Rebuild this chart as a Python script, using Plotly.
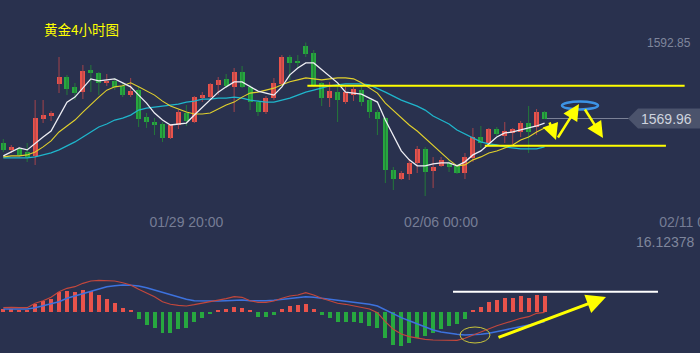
import plotly.graph_objects as go

# ---------------- data ----------------
tick_labels = ["01/29 20:00", "02/06 00:00", "02/11 00:00"]
tick_pos = [23, 55, 87]

opens = [1562.58, 1560.47, 1560.77, 1559.87, 1558.66, 1569.81, 1570.71, 1580.35, 1582.46, 1579.45,
         1577.94, 1584.57, 1583.66, 1580.65, 1581.25, 1579.75, 1577.04, 1578.54, 1570.41, 1568.90,
         1568.30, 1564.08, 1568.00, 1571.61, 1568.90, 1576.13, 1576.43, 1580.05, 1581.86, 1579.45,
         1583.96, 1579.45, 1574.93, 1571.91, 1576.13, 1580.35, 1588.48, 1587.28, 1591.79, 1589.69,
         1580.65, 1576.13, 1577.94, 1574.93, 1577.04, 1578.54, 1575.53, 1571.91, 1570.11, 1554.45,
         1551.74, 1553.24, 1556.55, 1560.77, 1554.14, 1555.65, 1556.55, 1555.65, 1553.54, 1558.06,
         1564.38, 1562.58, 1566.79, 1564.69, 1565.59, 1565.89, 1568.60, 1567.40, 1571.91]
highs = [1563.78, 1561.98, 1561.37, 1562.58, 1575.53, 1575.53, 1572.22, 1588.48, 1583.06, 1580.65,
         1586.07, 1586.07, 1583.96, 1583.36, 1582.16, 1580.65, 1582.16, 1579.45, 1571.61, 1570.11,
         1568.90, 1568.30, 1572.52, 1574.02, 1576.73, 1577.94, 1580.65, 1582.46, 1583.36, 1585.17,
         1585.77, 1580.05, 1575.53, 1576.73, 1582.16, 1589.08, 1589.08, 1589.08, 1592.85, 1590.59,
         1580.95, 1580.95, 1579.45, 1579.45, 1579.45, 1579.45, 1576.13, 1572.52, 1570.41, 1555.35,
         1554.14, 1557.76, 1561.67, 1561.37, 1558.36, 1558.36, 1557.76, 1556.25, 1559.57, 1567.10,
         1567.70, 1567.10, 1567.40, 1568.90, 1567.10, 1569.20, 1573.72, 1572.82, 1572.22]
lows = [1559.87, 1559.57, 1558.36, 1556.86, 1555.95, 1568.60, 1569.20, 1577.64, 1577.04, 1575.53,
        1575.83, 1577.94, 1577.04, 1579.75, 1578.54, 1576.43, 1576.43, 1567.40, 1567.10, 1564.99,
        1562.88, 1563.78, 1566.79, 1567.70, 1568.60, 1574.93, 1576.13, 1577.04, 1579.14, 1571.91,
        1579.14, 1572.52, 1570.71, 1571.31, 1575.53, 1580.05, 1581.55, 1585.17, 1588.48, 1579.45,
        1573.72, 1573.42, 1568.90, 1574.33, 1575.23, 1573.72, 1570.11, 1564.99, 1550.53, 1548.42,
        1551.43, 1551.43, 1553.54, 1546.62, 1549.03, 1555.35, 1553.84, 1553.24, 1551.74, 1556.86,
        1561.07, 1562.28, 1564.69, 1562.58, 1562.28, 1564.38, 1559.57, 1565.00, 1569.81]
closes = [1560.47, 1561.37, 1558.96, 1558.36, 1570.11, 1571.01, 1571.61, 1582.46, 1578.84, 1577.64,
          1584.27, 1583.66, 1580.65, 1581.25, 1579.45, 1577.04, 1578.24, 1569.81, 1568.90, 1568.00,
          1564.08, 1568.00, 1571.91, 1569.20, 1576.43, 1577.04, 1580.35, 1581.55, 1579.75, 1583.96,
          1579.45, 1574.93, 1571.91, 1576.13, 1580.65, 1588.48, 1586.67, 1586.67, 1589.39, 1580.05,
          1576.13, 1578.24, 1575.53, 1577.94, 1578.84, 1574.93, 1571.91, 1569.81, 1554.45, 1551.74,
          1553.54, 1556.55, 1560.77, 1553.84, 1555.35, 1557.46, 1555.35, 1553.54, 1558.36, 1564.38,
          1562.58, 1566.79, 1565.29, 1566.19, 1566.79, 1568.60, 1565.89, 1571.91, 1569.96]

ma_white = [1558.7, 1559.9, 1561.1, 1560.5, 1562.6, 1564.4, 1566.2, 1570.4, 1574.9, 1576.4,
            1579.1, 1581.9, 1581.3, 1581.6, 1581.9, 1580.7, 1579.5, 1577.0, 1574.6, 1571.6,
            1569.5, 1568.0, 1568.3, 1568.6, 1571.0, 1573.4, 1575.8, 1577.9, 1579.5, 1581.0,
            1581.0, 1579.5, 1578.2, 1577.6, 1577.0, 1579.5, 1583.1, 1585.2, 1586.7, 1586.7,
            1584.6, 1582.5, 1580.7, 1577.9, 1577.6, 1577.3, 1576.1, 1574.9, 1569.5, 1565.0,
            1560.2, 1557.5, 1555.7, 1555.7, 1556.3, 1556.6, 1556.6, 1555.7, 1556.9, 1559.0,
            1560.2, 1562.3, 1564.4, 1565.6, 1565.9, 1566.5, 1567.1, 1567.7, 1568.6]
ma_yellow = [1558.4, 1558.7, 1558.7, 1559.0, 1559.9, 1561.4, 1563.2, 1565.9, 1567.7, 1569.5,
             1571.9, 1574.3, 1576.4, 1578.5, 1579.5, 1579.8, 1580.7, 1579.5, 1578.2, 1577.0,
             1575.2, 1573.7, 1572.8, 1571.9, 1571.3, 1571.3, 1571.6, 1572.8, 1574.0, 1574.9,
             1576.4, 1577.6, 1577.9, 1578.5, 1579.1, 1580.1, 1581.0, 1581.6, 1582.2, 1581.9,
             1581.6, 1581.9, 1582.2, 1582.2, 1581.9, 1580.7, 1579.1, 1577.6, 1574.6, 1572.5,
             1570.1, 1568.0, 1566.2, 1564.1, 1561.7, 1559.6, 1557.5, 1555.7, 1556.0, 1557.5,
             1558.4, 1559.6, 1560.2, 1561.1, 1562.0, 1563.5, 1564.4, 1565.9, 1567.1]
ma_cyan = [1558.1, 1558.1, 1558.1, 1558.1, 1558.4, 1559.0, 1559.6, 1560.5, 1561.7, 1562.9,
           1564.4, 1565.9, 1567.4, 1568.3, 1569.5, 1570.1, 1571.0, 1572.5, 1573.1, 1573.4,
           1573.7, 1574.0, 1574.3, 1574.9, 1575.2, 1575.8, 1575.8, 1576.1, 1576.1, 1576.4,
           1576.1, 1575.5, 1575.2, 1574.9, 1574.9, 1575.5, 1576.1, 1577.0, 1577.9, 1578.5,
           1579.1, 1579.8, 1580.1, 1580.4, 1580.4, 1580.4, 1580.1, 1579.1, 1577.9, 1576.7,
           1575.5, 1574.6, 1573.7, 1572.5, 1570.7, 1569.5, 1568.3, 1566.5, 1565.3, 1564.1,
           1562.9, 1562.3, 1562.0, 1561.4, 1561.1, 1560.8, 1560.8, 1560.8, 1561.4]

macd_hist = [0.55, 0.55, 0.39, 0.39, 1.68, 2.53, 3.06, 4.61, 4.84, 4.54,
             5.00, 4.77, 3.85, 2.93, 2.00, 0.92, 0.39, -1.68, -3.06, -3.69,
             -4.84, -4.84, -3.99, -3.69, -2.30, -1.38, -0.53, 0.39, 0.62, 1.15,
             0.85, 0.39, -1.15, -1.15, -0.76, 0.62, 1.31, 1.61, 1.84, 0.62,
             -0.76, -1.38, -2.30, -2.30, -2.30, -2.53, -3.23, -3.69, -5.99, -7.67,
             -7.90, -7.14, -6.15, -5.60, -4.84, -3.99, -3.29, -2.83, -1.68, 0.39,
             1.08, 2.24, 2.70, 3.16, 3.16, 3.62, 3.16, 3.85, 3.62]
macd_dif = [0.92, 1.01, 0.92, 0.92, 1.94, 2.53, 3.32, 4.61, 5.39, 5.76,
            6.54, 7.07, 7.24, 7.24, 7.07, 6.68, 6.15, 5.16, 4.24, 3.46,
            2.30, 1.71, 1.47, 1.31, 1.61, 1.94, 2.30, 2.53, 3.00, 3.46,
            3.32, 2.53, 2.17, 2.17, 2.47, 3.09, 3.62, 3.85, 4.38, 3.85,
            3.09, 2.53, 1.94, 1.71, 1.38, 1.01, 0.62, -0.23, -2.30, -4.06,
            -5.14, -5.76, -6.13, -6.36, -6.52, -6.52, -6.59, -6.59, -6.13, -5.37,
            -4.61, -3.82, -3.23, -2.67, -2.07, -1.52, -1.15, -0.37, -0.14]
macd_dea = [0.62, 0.62, 0.62, 0.62, 0.92, 1.38, 1.77, 2.30, 3.09, 3.62,
            4.24, 4.84, 5.39, 5.76, 5.99, 6.15, 6.08, 5.92, 5.53, 5.00,
            4.38, 3.78, 3.23, 2.86, 2.53, 2.47, 2.47, 2.47, 2.53, 2.70,
            2.70, 2.53, 2.47, 2.53, 2.63, 2.86, 3.09, 3.32, 3.46, 3.32,
            3.09, 2.86, 2.70, 2.47, 2.24, 1.94, 1.71, 1.31, 0.39, -0.37,
            -1.38, -2.07, -2.83, -3.59, -4.22, -4.68, -4.98, -5.21, -5.37, -5.37,
            -5.21, -4.98, -4.68, -4.22, -3.82, -3.46, -3.06, -2.67, -2.30]

resist_level = 1579.85
support_level = 1561.77
macd_mark_level = 4.61

# ---------------- styling ----------------
W, H = 700, 353
BG = "#29314e"
RED = "#e9534b"
GREEN = "#27a83f"
RED_WICK = "#a4434b"
GREEN_WICK = "#24793a"


def px(x):
    return x / W


def py(y):
    return 1 - y / H


idx = list(range(len(closes)))
up = [c >= o for o, c in zip(opens, closes)]

fig = go.Figure()

# wicks
for is_up, col in [(True, RED_WICK), (False, GREEN_WICK)]:
    wx, wy = [], []
    for i in idx:
        if up[i] == is_up:
            wx += [i, i, None]
            wy += [lows[i], highs[i], None]
    fig.add_trace(go.Scatter(x=wx, y=wy, mode="lines", line=dict(color=col, width=1),
                             hoverinfo="skip", showlegend=False, xaxis="x", yaxis="y"))

# bodies
for is_up, col in [(True, RED), (False, GREEN)]:
    bx, bh, bb = [], [], []
    for i in idx:
        if up[i] == is_up:
            lo = min(opens[i], closes[i])
            hi = max(opens[i], closes[i])
            bx.append(i)
            bb.append(lo)
            bh.append(max(hi - lo, 0.4))
    fig.add_trace(go.Bar(x=bx, y=bh, base=bb, width=0.63, marker=dict(color=col, line=dict(width=0)),
                         showlegend=False, xaxis="x", yaxis="y"))

# moving averages
for vals, col, w in [(ma_cyan, "#1fb6cc", 1.3), (ma_yellow, "#e2d12c", 1.1), (ma_white, "#eeeef4", 1.3)]:
    fig.add_trace(go.Scatter(x=idx, y=vals, mode="lines", line=dict(color=col, width=w),
                             showlegend=False, xaxis="x", yaxis="y"))

# MACD histogram
fig.add_trace(go.Bar(x=idx, y=macd_hist, width=0.5,
                     marker=dict(color=[RED if v >= 0 else GREEN for v in macd_hist], line=dict(width=0)),
                     showlegend=False, xaxis="x2", yaxis="y2"))
fig.add_trace(go.Scatter(x=idx, y=macd_dea, mode="lines", line=dict(color="#3d72de", width=1.5),
                         showlegend=False, xaxis="x2", yaxis="y2"))
fig.add_trace(go.Scatter(x=idx, y=macd_dif, mode="lines", line=dict(color="#c2473c", width=1.2),
                         showlegend=False, xaxis="x2", yaxis="y2"))

xr = [-0.415, 87.53]
fig.update_layout(
    width=W, height=H,
    autosize=False,
    margin=dict(l=0, r=0, t=0, b=0, pad=0, autoexpand=False),
    paper_bgcolor=BG, plot_bgcolor=BG,
    barmode="overlay", bargap=0,
    showlegend=False,
    xaxis=dict(domain=[0, 1], range=xr, autorange=False, anchor="y", showgrid=False, zeroline=False,
               showline=False, automargin=False,
               tickmode="array", tickvals=tick_pos, ticktext=tick_labels, ticks="",
               ticklabeloverflow="allow",
               tickfont=dict(family="Liberation Sans, Arial", size=14, color="#767d95")),
    yaxis=dict(domain=[0.4, 1], range=[1541.86, 1605.65], autorange=False, showgrid=False, zeroline=False,
               showticklabels=False, showline=False, automargin=False),
    xaxis2=dict(domain=[0, 1], range=xr, autorange=False, anchor="y2", showgrid=False, zeroline=False,
                showticklabels=False, showline=False, automargin=False),
    yaxis2=dict(domain=[0, 0.36], range=[-9.52, 19.77], autorange=False, showgrid=False, zeroline=False,
                showticklabels=False, showline=False, automargin=False),
)

shapes = []
shapes.append(dict(type="line", xref="x", yref="y", x0=38.2, x1=85.6, y0=resist_level, y1=resist_level,
                   line=dict(color="#ffff00", width=2)))
shapes.append(dict(type="line", xref="x", yref="y", x0=60.5, x1=83.25, y0=support_level, y1=support_level,
                   line=dict(color="#ffff00", width=2)))
shapes.append(dict(type="line", xref="x", yref="y", x0=68.3, x1=78.8, y0=closes[-1], y1=closes[-1],
                   line=dict(color="#7b8196", width=1)))
shapes.append(dict(type="path", xref="paper", yref="paper",
                   path=f"M {px(628)} {py(118.5)} L {px(638)} {py(108.5)} L {px(700)} {py(108.5)} "
                        f"L {px(700)} {py(128.5)} L {px(638)} {py(128.5)} Z",
                   fillcolor="#4b536c", line=dict(width=0)))
shapes.append(dict(type="circle", xref="paper", yref="paper",
                   x0=px(562), x1=px(598), y0=py(109.5), y1=py(101.5),
                   line=dict(color="#3d93e4", width=2.5)))
shapes.append(dict(type="line", xref="x2", yref="y2", x0=56.5, x1=82.25, y0=macd_mark_level, y1=macd_mark_level,
                   line=dict(color="#ffffff", width=2)))
shapes.append(dict(type="circle", xref="paper", yref="paper",
                   x0=px(460), x1=px(490), y0=py(343), y1=py(327),
                   line=dict(color="#c9c53a", width=1)))
fig.update_layout(shapes=shapes)

ann = []
ann.append(dict(text="黄金4小时图", xref="paper", yref="paper", x=px(42), y=py(29), xanchor="left",
                yanchor="middle", showarrow=False,
                font=dict(family="Noto Sans CJK SC", size=13.5, color="#ffff00")))
ann.append(dict(text="1592.85", xref="paper", yref="paper", x=px(693), y=py(43), xanchor="right",
                yanchor="middle", showarrow=False,
                font=dict(family="Liberation Sans, Arial", size=12, color="#7f869c")))
ann.append(dict(text="1569.96", xref="paper", yref="paper", x=px(694), y=py(119), xanchor="right",
                yanchor="middle", showarrow=False,
                font=dict(family="Liberation Sans, Arial", size=14, color="#cfd3de")))
ann.append(dict(text="16.12378", xref="paper", yref="paper", x=px(697), y=py(242), xanchor="right",
                yanchor="middle", showarrow=False,
                font=dict(family="Liberation Sans, Arial", size=14, color="#7f869c")))


def arrow(tail, head, width=2.5, size=1.0):
    return dict(text="", xref="paper", yref="paper", x=px(head[0]), y=py(head[1]),
                ax=tail[0] - head[0], ay=tail[1] - head[1], axref="pixel", ayref="pixel",
                showarrow=True, arrowhead=2, arrowsize=size, arrowwidth=width,
                arrowcolor="#ffff00", standoff=0, startstandoff=0)


ann.append(arrow((549, 121), (556, 140), size=1.3))
ann.append(arrow((557, 139), (579, 104), size=1.3))
ann.append(arrow((584, 108), (603, 138), size=1.3))
ann.append(arrow((497, 338), (606, 297), width=3, size=1.3))
fig.update_layout(annotations=ann)

fig.write_html("out.html")
